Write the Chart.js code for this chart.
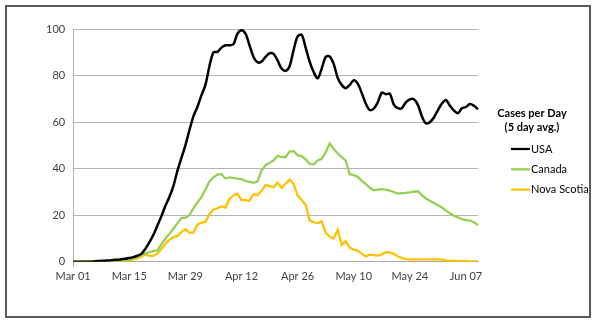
<!DOCTYPE html>
<html>
<head>
<meta charset="utf-8">
<script src="https://cdn.jsdelivr.net/npm/chart.js@4/dist/chart.umd.min.js"></script>
<style>
html,body{margin:0;padding:0;background:#fff;width:600px;height:325px;overflow:hidden}
#frame{position:absolute;left:5px;top:5px;width:586px;height:313px;box-sizing:border-box;border:2px solid #5b5b5b;}
#c{position:absolute;left:0;top:0}
</style>
</head>
<body>
<div id="frame"></div>
<canvas id="c" width="600" height="325"></canvas>
<script>
// Daily series, Mar 01 .. Jun 10 (5 day avg.)
const usa = [
  0,0,0,0,0,0.1,0.3,0.4,0.5,0.6,
  0.8,0.9,1.1,1.3,1.6,2.0,2.6,3.4,5.5,8.3,
  11.5,15.5,19.5,24,27.8,32.5,39,44.5,50,56.5,
  62.5,66.5,71.5,76,84,90,90.2,92,93,93,
  93.5,98,99.5,98,93,88,85.7,86,88,89.6,
  89.3,86.5,83,82,84,91,96.8,97.5,92,86,
  81.5,78.8,83,88,88.2,85,79,76,74.6,76,
  78,76.5,72.5,68,65.2,65.8,68.5,72.7,72,72.2,
  67.5,66,66,68.5,69.8,69.8,67.4,62.5,59.5,60,
  62,65.2,68,69.5,67,65,63.8,66,66.5,67.8,
  67,65.5
];
const canada = [
  0,0,0,0.1,0.2,0.2,0.3,0.3,0.3,0.4,
  0.5,0.5,0.6,0.7,0.9,1.4,2.0,2.8,3.5,4.1,
  4.6,4.9,7.5,9.9,12,14.2,16.5,18.8,19,20,
  23,25.5,27.8,31,34.5,36.3,37.5,37.6,35.8,36.3,
  36,35.7,35.5,34.7,34.3,33.9,34.5,39.2,41.5,42.5,
  43.5,45.5,45,45,47.3,47.5,45.8,45.4,44,42,
  41.8,43.5,44.2,47,50.8,48.5,46.5,45,43.5,37.6,
  37.2,36.5,34.8,33.5,31.8,30.7,31,31.2,31,30.6,
  30,29.3,29.5,29.6,29.8,30.1,30.3,28.6,27.2,26.2,
  25.3,24.3,23.3,22,20.8,19.8,19.1,18.3,17.9,17.7,
  17,15.8
];
const novaScotia = [
  0,0,0,0,0,0,0,0,0,0,
  0,0,0,0.2,0.5,1.0,1.4,2.2,3.1,2.5,
  2.5,3.5,5.5,7.6,9.5,10.5,11,12.8,14,12.5,
  12.5,16,16.8,17,20.5,22.5,23,23.8,23.3,27,
  28.5,29.3,26.5,26.5,26.2,29,28.6,30.5,33,32.5,
  32,34,31.7,33.5,35.3,33.5,28.5,26.5,24.5,17.8,
  17,16.6,17.4,12.5,10.8,10,13.8,7.3,8.9,6.2,
  5.2,4.8,3.5,2.3,3.1,2.9,2.7,3.2,4.1,4.0,
  3.4,2.3,1.7,1.2,1.0,1.0,1.0,1.0,1.0,1.0,
  1.0,1.0,1.0,0.5,0.4,0.4,0.3,0.3,0.3,0.2,
  0.2,0.1
];
const seriesNames = ['USA', 'Canada', 'Nova Scotia'];
const seriesColors = ['#000000', '#92D050', '#FFC000'];
const legendTitle = ['Cases per Day', '(5 day avg.)'];
const yTicks = [0, 20, 40, 60, 80, 100];
const tickEvery = 14;

const monthNames = ['Jan','Feb','Mar','Apr','May','Jun','Jul'];
const dates = [];
for (let i = 0; i < usa.length; i++) {
  const d = new Date(2020, 2, 1 + i);
  dates.push(monthNames[d.getMonth()] + ' ' + String(d.getDate()).padStart(2, '0'));
}

const FONT = 'Lato';
const sideLegend = {
  id: 'sideLegend',
  afterDraw(chart) {
    const {ctx, chartArea} = chart;
    const x0 = chartArea.right;
    const t = chartArea.top;
    ctx.save();
    ctx.fillStyle = '#000';
    ctx.textBaseline = 'middle';
    ctx.textAlign = 'center';
    ctx.font = 'bold 11px ' + FONT;
    ctx.fillText(legendTitle[0], x0 + 54, t + 84);
    ctx.fillText(legendTitle[1], x0 + 54, t + 98);
    ctx.textAlign = 'left';
    ctx.font = '11px ' + FONT;
    chart.data.datasets.forEach((ds, i) => {
      const y = t + 120 + i * 20.3;
      ctx.strokeStyle = ds.borderColor;
      ctx.lineWidth = 2.25;
      ctx.beginPath();
      ctx.moveTo(x0 + 33, y);
      ctx.lineTo(x0 + 52, y);
      ctx.stroke();
      ctx.fillStyle = '#000';
      ctx.fillText(ds.label, x0 + 53, y);
    });
    ctx.restore();
  }
};

new Chart(document.getElementById('c'), {
  type: 'line',
  data: {
    labels: dates,
    datasets: [
      {label: seriesNames[0], data: usa, borderColor: seriesColors[0], backgroundColor: seriesColors[0], borderWidth: 2.5, pointRadius: 0, tension: 0.3},
      {label: seriesNames[1], data: canada, borderColor: seriesColors[1], backgroundColor: seriesColors[1], borderWidth: 2.25, pointRadius: 0, tension: 0},
      {label: seriesNames[2], data: novaScotia, borderColor: seriesColors[2], backgroundColor: seriesColors[2], borderWidth: 2.25, pointRadius: 0, tension: 0}
    ]
  },
  options: {
    responsive: false,
    animation: false,
    events: [],
    layout: {padding: {left: 38, top: 29, right: 122, bottom: 39}},
    plugins: {legend: {display: false}, tooltip: {enabled: false}},
    scales: {
      x: {
        type: 'category',
        grid: {display: true, drawOnChartArea: false, drawTicks: true, tickLength: 5,
               color: c => (c.index % tickEvery === 0 ? '#a6a6a6' : 'rgba(0,0,0,0)')},
        border: {display: true, color: '#a6a6a6'},
        ticks: {autoSkip: false, maxRotation: 0, minRotation: 0, padding: 3, color: '#404040',
                font: {family: FONT, size: 11},
                callback: (v, i) => (i % tickEvery === 0 ? dates[i] : null)}
      },
      y: {
        min: yTicks[0], max: yTicks[yTicks.length - 1],
        afterBuildTicks: s => { s.ticks = yTicks.map(v => ({value: v})); },
        grid: {color: '#b4b4b4', drawTicks: false},
        border: {display: true, color: '#b4b4b4'},
        ticks: {padding: 8, color: '#404040', font: {family: FONT, size: 11}}
      }
    }
  },
  plugins: [sideLegend]
});
</script>
</body>
</html>
